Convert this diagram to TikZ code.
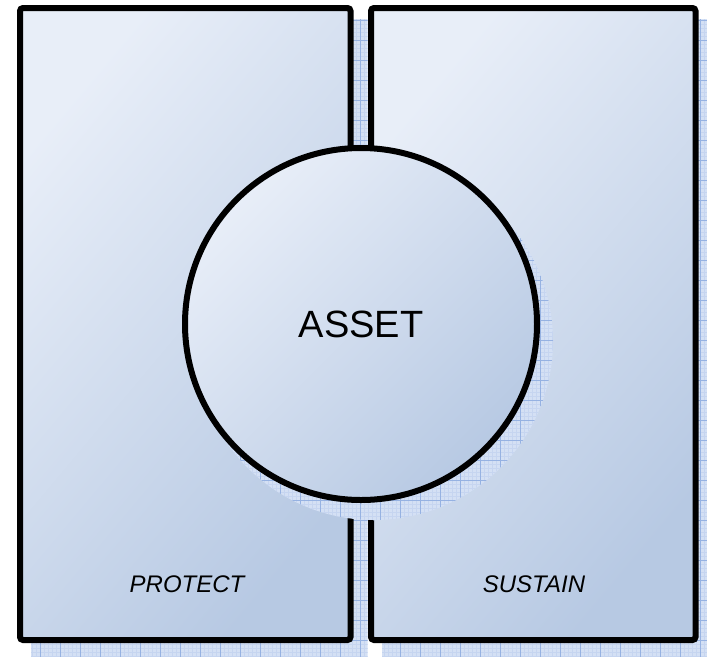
\documentclass[tikz,border=0pt]{standalone}
\usepackage{fontspec}
\setmainfont{Liberation Sans}
\definecolor{paneltop}{RGB}{232,238,248}
\definecolor{panelmid}{RGB}{196,211,234}
\definecolor{panelbot}{RGB}{183,201,227}
\definecolor{shadowfill}{RGB}{212,224,244}
\definecolor{gridminor}{RGB}{198,213,240}
\definecolor{gridmajor}{RGB}{150,178,226}
\newcommand{\paperfill}{%
  \fill[shadowfill] (0,0) rectangle (707,657);
  \foreach \k in {0,4,...,708} {
    \draw[gridminor, line width=0.3pt] (\k,0) -- (\k,657);
    \draw[gridminor, line width=0.3pt] (0,\k) -- (707,\k);}
  \foreach \k in {0,20,...,700} {
    \draw[gridmajor, line width=0.5pt] (\k,0) -- (\k,657);
    \draw[gridmajor, line width=0.5pt] (0,\k) -- (707,\k);}}
\begin{document}
\begin{tikzpicture}[x=1pt, y=-1pt,
  panel/.style={rectangle, draw=black, line width=6pt, rounded corners=3pt,
    top color=paneltop, middle color=panelmid, bottom color=panelbot,
    shading angle=50, inner sep=0pt},
  core/.style={circle, draw=black, line width=6pt, inner sep=0pt,
    top color=paneltop, middle color=panelmid, bottom color=panelbot,
    shading angle=45, minimum size=352pt},
  word/.style={font=\fontsize{24}{28}\selectfont\itshape}]
\useasboundingbox (0,0) rectangle (707,657);
% shadows of the panels
\begin{scope}
\clip (31,19) rectangle (367.5,657) (382,19) rectangle (707,657);
\paperfill
\end{scope}
% panels
\node[panel, minimum width=330.5pt, minimum height=632pt] (protect) at (185.25,324) {};
\node[panel, minimum width=324.5pt, minimum height=632pt] (sustain) at (533.25,324) {};
\node[word] (protecttxt) at (187,584) {PROTECT};
\node[word] (sustaintxt) at (534,584) {SUSTAIN};
% shadow of the circle
\begin{scope}
\clip (374,341) circle (179);
\paperfill
\end{scope}
\node[core, font=\fontsize{38}{44}\selectfont] (asset) at (361,324) {ASSET};
\end{tikzpicture}
\end{document}
